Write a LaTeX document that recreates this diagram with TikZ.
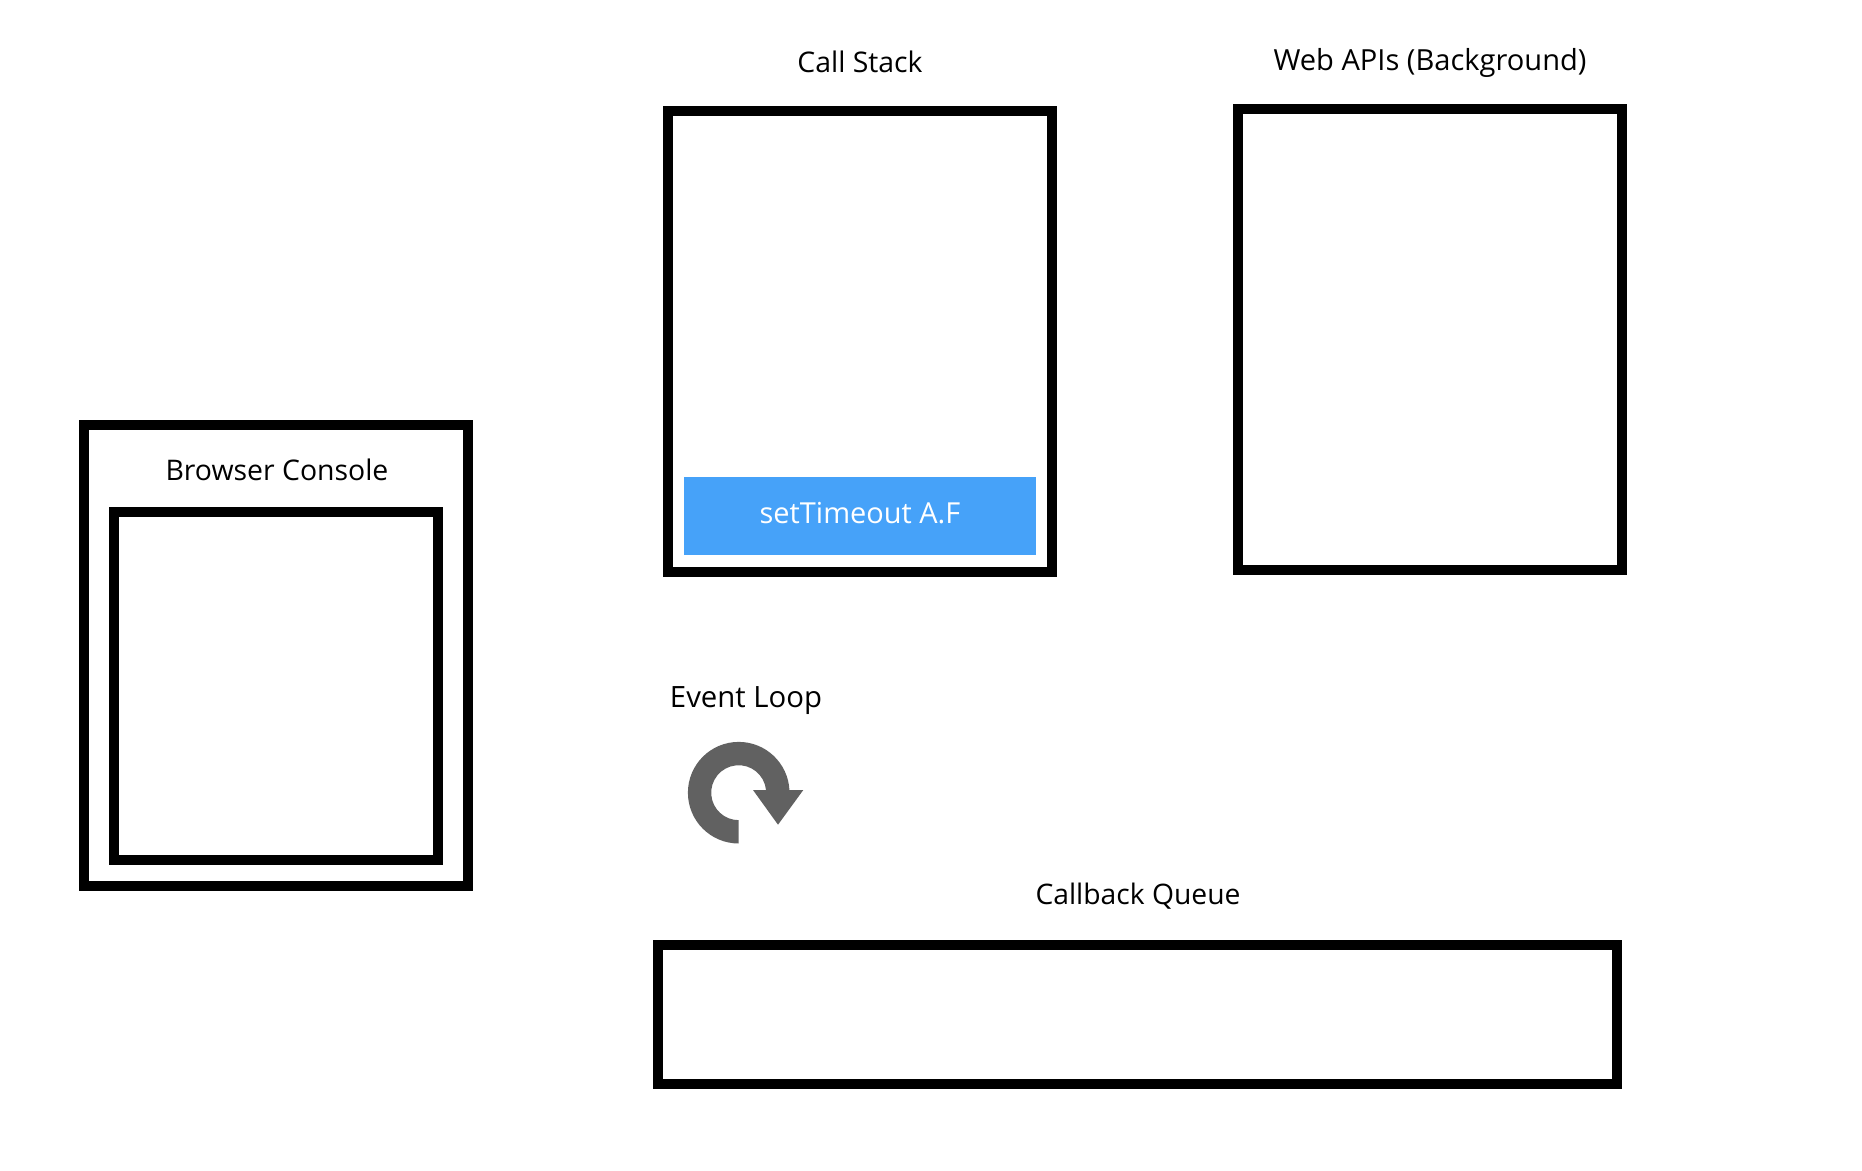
\documentclass[tikz,border=0pt]{standalone}
\usepackage{fontspec}
\setmainfont{Open Sans}
\definecolor{barblue}{HTML}{46A2F9}
\definecolor{loopgray}{HTML}{616161}
\tikzset{
  frame/.style={draw=black,line width=7.5pt,fill=none,inner sep=0pt,outer sep=0pt,minimum width=#1},
  label/.style={text=black,inner sep=0pt,font=\fontsize{#1}{25}\selectfont},
  label/.default=21.3,
  bar/.style={fill=barblue,inner sep=0pt,outer sep=0pt},
}
\begin{document}
\begin{tikzpicture}[x=0.75pt,y=-0.75pt]
\useasboundingbox (0,0) rectangle (1862,1170);
\fill[white] (0,0) rectangle (1862,1170);
% frames
\node[frame=288pt,minimum height=345.75pt] (console) at (276,655.5) {};
\node[frame=243pt,minimum height=261pt] (consoleinner) at (276,686) {};
\node[frame=288pt,minimum height=345.75pt] (stack) at (860,341.5) {};
\node[frame=288pt,minimum height=345.75pt] (webapis) at (1430,339.75) {};
\node[frame=719.25pt,minimum height=104.25pt] (queue) at (1137.5,1014.5) {};
% bar
\node[bar,minimum width=264pt,minimum height=58.5pt] (timeout) at (860,516) {};
\node[label=21.7,text=white] (timeouttext) at (860,513) {setTimeout A.F};
% labels
\node[label] (lstack) at (860,62) {Call Stack};
\node[label=21.8] (lweb) at (1430,63) {Web APIs (Background)};
\node[label] (lconsole) at (277,470) {Browser Console};
\node[label=22] (lloop) at (746,701) {Event Loop};
\node[label=21.2] (lqueue) at (1138,896) {Callback Queue};
% loop icon
\fill[loopgray] (738.7,843.5)
  arc[start angle=-90,end angle=-357,radius=38.1pt]
  -- (803.3,790) -- (778,824.7) -- (753,790) -- (766,790)
  arc[start angle=5.6,end angle=270,radius=20.6pt]
  -- cycle;
\end{tikzpicture}
\end{document}
